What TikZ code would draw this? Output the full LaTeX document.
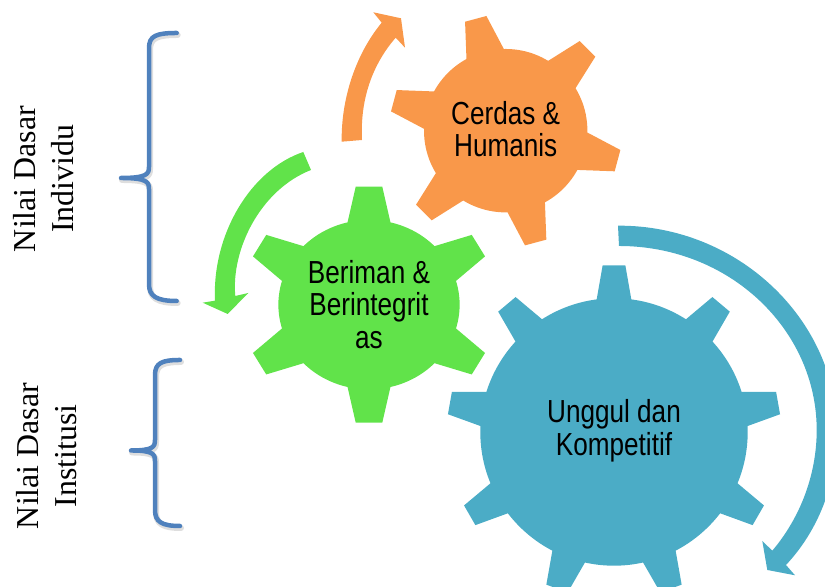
\documentclass[tikz,border=0pt]{standalone}
\usepackage{fontspec}
\setmainfont{Liberation Serif}
\newfontfamily\gearfont{Liberation Sans}
\definecolor{gearorange}{HTML}{F9984A}
\definecolor{geargreen}{HTML}{61E34A}
\definecolor{gearblue}{HTML}{4BACC6}
\definecolor{bracketblue}{HTML}{4F81BD}
\tikzset{
    geartext/.style={align=center, xscale=0.82, transform shape, font=\gearfont\fontsize{9.07}{9.25}\selectfont},
    sidetext/.style={align=center, rotate=90, font=\fontsize{9.07}{10.8}\selectfont},
    bracket/.style={draw=bracketblue, line width=0.045cm, line cap=round, line join=round},
    bracketshadow/.style={draw=black, opacity=0.13, line width=0.06cm, line cap=round, line join=round, shift={(0.01,-0.02)}}
}
% teeth count, first angle, body radius, tip radius, half base angle, half tip angle
\newcommand{\gearwheel}[6]{
    \fill (0,0) circle (#3);
    \pgfmathsetmacro{\gearstep}{360/#1}
    \foreach \k in {1,...,#1}{
        \pgfmathsetmacro{\a}{#2+\k*\gearstep}
        \fill (0,0) -- (\a-#5:#3) -- (\a-#6:#4) -- (\a+#6:#4) -- (\a+#5:#3) -- cycle;
    }
}
\begin{document}
\begin{tikzpicture}
    \useasboundingbox (0,0) rectangle (8.25,5.87);
    \clip (0,0) rectangle (8.25,5.87);

    % orange gear
    \begin{scope}[shift={(5.057,4.563)}, gearorange]
        \gearwheel{6}{45}{0.817}{1.163}{13.7}{5.45}
    \end{scope}
    % green gear
    \begin{scope}[shift={(3.69,2.823)}, xscale=1.07, geargreen]
        \gearwheel{6}{30}{0.847}{1.187}{13.7}{6}
    \end{scope}
    % blue gear
    \begin{scope}[shift={(6.14,1.55)}, gearblue]
        \gearwheel{9}{10}{1.337}{1.67}{7.45}{3.9}
    \end{scope}

    % orange arrow
    \fill[gearorange] (3.417,4.453) .. controls (3.41,4.87) and (3.55,5.32) .. (3.817,5.643)
        -- (3.733,5.747) -- (4.01,5.687) -- (4.05,5.393) -- (3.957,5.493)
        .. controls (3.72,5.22) and (3.6,4.87) .. (3.62,4.47) -- cycle;
    % green arrow
    \fill[geargreen] (3.033,4.35) .. controls (2.5,4.17) and (2.12,3.52) .. (2.15,2.863)
        -- (2.027,2.843) -- (2.277,2.73) -- (2.483,2.94) -- (2.353,2.91)
        .. controls (2.31,3.37) and (2.6,3.97) .. (3.11,4.17) -- cycle;
    % blue arrow
    \fill[gearblue] (6.18,3.613) .. controls (7.38,3.62) and (8.37,2.67) .. (8.37,1.55)
        .. controls (8.37,1.02) and (8.17,0.55) .. (7.86,0.22)
        -- (7.95,0.117) -- (7.673,0.17) -- (7.623,0.46) -- (7.723,0.363)
        .. controls (8.0,0.69) and (8.167,1.12) .. (8.167,1.57)
        .. controls (8.167,2.57) and (7.3,3.41) .. (6.19,3.41) -- cycle;

    % gear labels
    \node[geartext] (cerdas) at (5.057,4.58) {Cerdas \&\\Humanis};
    \node[geartext] (beriman) at (3.69,2.825) {Beriman \&\\Berintegrit\\as};
    \node[geartext] (unggul) at (6.14,1.56) {Unggul dan\\Kompetitif};

    % brackets
    \foreach \sty in {bracketshadow, bracket}{
        \draw[\sty] (1.767,5.54) .. controls (1.56,5.54) and (1.49,5.51) .. (1.49,5.39)
            -- (1.49,4.2) .. controls (1.49,4.13) and (1.47,4.09) .. (1.21,4.09)
            .. controls (1.47,4.09) and (1.49,4.05) .. (1.49,3.98)
            -- (1.49,3.03) .. controls (1.49,2.91) and (1.56,2.86) .. (1.767,2.86);
        \draw[\sty] (1.8,2.27) .. controls (1.62,2.27) and (1.55,2.24) .. (1.55,2.12)
            -- (1.55,1.47) .. controls (1.55,1.4) and (1.53,1.365) .. (1.31,1.365)
            .. controls (1.53,1.365) and (1.55,1.33) .. (1.55,1.26)
            -- (1.55,0.77) .. controls (1.55,0.65) and (1.62,0.61) .. (1.8,0.61);
    }

    % side labels
    \node[sidetext] (individu) at (0.44,4.08) {Nilai Dasar\\Individu};
    \node[sidetext] (institusi) at (0.47,1.31) {Nilai Dasar\\Institusi};
\end{tikzpicture}
\end{document}
